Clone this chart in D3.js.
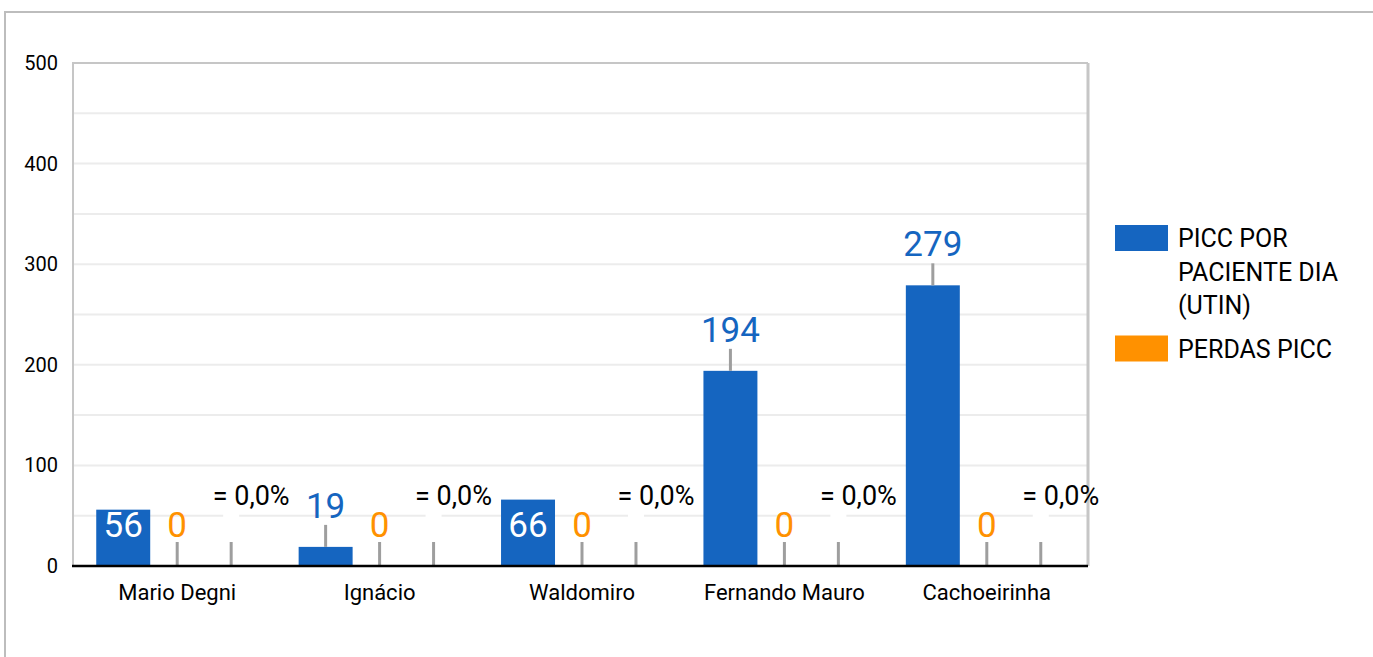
<!DOCTYPE html>
<html>
<head>
<meta charset="utf-8">
<script src="https://cdn.jsdelivr.net/npm/d3@7"></script>
<style>
  body { margin: 0; background: #fff; }
  svg { display: block; font-family: Roboto, 'Noto Sans', sans-serif; }
</style>
</head>
<body>
<div id="chart"></div>
<script>
const categories = ['Mario Degni', 'Ignácio', 'Waldomiro', 'Fernando Mauro', 'Cachoeirinha'];
const piccPorPaciente = [56, 19, 66, 194, 279];
const perdasPicc = [0, 0, 0, 0, 0];
const taxaPerdas = [0, 0, 0, 0, 0];
const taxaLabels = ['= 0,0%', '= 0,0%', '= 0,0%', '= 0,0%', '= 0,0%'];
const yTicks = [0, 100, 200, 300, 400, 500];
const legendItems = [
    {lines: ['PICC POR', 'PACIENTE DIA', '(UTIN)'], color: '#1565c0'},
    {lines: ['PERDAS PICC'], color: '#ff9100'}
];

const W = 1373, H = 657;
const plot = {left: 73, top: 63, right: 1088, bottom: 566};

const svg = d3.select('#chart')
    .append('svg')
    .attr('width', W)
    .attr('height', H);

// outer frame (only top and left edges visible)
svg.append('path')
    .attr('d', 'M5,' + H + ' V12 H' + W)
    .attr('fill', 'none')
    .attr('stroke', '#bdbdbd')
    .attr('stroke-width', 2);

const y = d3.scaleLinear()
    .domain([0, 500])
    .range([plot.bottom, plot.top]);

const x = d3.scaleBand()
    .domain(categories)
    .range([76, plot.right])
    .paddingInner(0.2)
    .paddingOuter(0.1);

const slots = ['picc', 'perdas', 'taxa'];
const xs = d3.scaleBand()
    .domain(slots)
    .range([0, x.bandwidth()])
    .padding(0);

// gridlines every 50
const grid = d3.range(50, 500, 50);
svg.append('g')
    .selectAll('line')
    .data(grid)
    .join('line')
    .attr('x1', plot.left)
    .attr('x2', plot.right)
    .attr('y1', d => y(d))
    .attr('y2', d => y(d))
    .attr('stroke', '#ececec')
    .attr('stroke-width', 2);

// plot frame
svg.append('path')
    .attr('d', 'M' + plot.left + ',' + plot.bottom + ' V' + plot.top + ' H' + plot.right)
    .attr('fill', 'none')
    .attr('stroke', '#c6c6c6')
    .attr('stroke-width', 2);
svg.append('line')
    .attr('x1', plot.right).attr('x2', plot.right)
    .attr('y1', plot.top).attr('y2', plot.bottom)
    .attr('stroke', '#c6c6c6')
    .attr('stroke-width', 3);

// y axis labels
svg.append('g')
    .selectAll('text')
    .data(yTicks)
    .join('text')
    .attr('x', 58)
    .attr('y', d => y(d))
    .attr('dy', '0.35em')
    .attr('text-anchor', 'end')
    .attr('font-size', 20)
    .attr('fill', '#000')
    .text(d => d);

const groups = svg.append('g')
    .selectAll('g')
    .data(categories.map((c, i) => ({
        cat: c, picc: piccPorPaciente[i], perdas: perdasPicc[i],
        taxa: taxaPerdas[i], taxaLabel: taxaLabels[i]
    })))
    .join('g')
    .attr('transform', d => 'translate(' + x(d.cat) + ',0)');

const stem = 22, gap = 7;

// blue bars
groups.append('rect')
    .attr('x', xs('picc'))
    .attr('width', xs.bandwidth())
    .attr('y', d => y(d.picc))
    .attr('height', d => y(0) - y(d.picc))
    .attr('fill', '#1565c0');

const inside = d => (y(0) - y(d.picc)) > 40 && d.picc < 100;

groups.filter(d => !inside(d)).append('line')
    .attr('x1', xs('picc') + xs.bandwidth() / 2)
    .attr('x2', xs('picc') + xs.bandwidth() / 2)
    .attr('y1', d => y(d.picc))
    .attr('y2', d => y(d.picc) - stem)
    .attr('stroke', '#9e9e9e')
    .attr('stroke-width', 3);

groups.append('text')
    .attr('x', xs('picc') + xs.bandwidth() / 2)
    .attr('y', d => inside(d) ? y(0) - stem - gap : y(d.picc) - stem - gap)
    .attr('text-anchor', 'middle')
    .attr('font-size', 35)
    .attr('fill', d => inside(d) ? '#fff' : '#1565c0')
    .text(d => d.picc);

// orange series (zero values) with stems
groups.append('rect')
    .attr('x', xs('perdas'))
    .attr('width', xs.bandwidth())
    .attr('y', d => y(d.perdas))
    .attr('height', d => y(0) - y(d.perdas))
    .attr('fill', '#ff9100');

groups.append('line')
    .attr('x1', xs('perdas') + xs.bandwidth() / 2)
    .attr('x2', xs('perdas') + xs.bandwidth() / 2)
    .attr('y1', d => y(d.perdas))
    .attr('y2', d => y(d.perdas) - stem - 2)
    .attr('stroke', '#9e9e9e')
    .attr('stroke-width', 3);

groups.append('text')
    .attr('x', xs('perdas') + xs.bandwidth() / 2)
    .attr('y', d => y(d.perdas) - stem - gap)
    .attr('text-anchor', 'middle')
    .attr('font-size', 35)
    .attr('fill', '#ff9100')
    .text(d => d.perdas);

// third (unlisted) series: zero bars with a percentage label
groups.append('rect')
    .attr('x', xs('taxa') + xs.bandwidth() / 2 - 8)
    .attr('width', 16)
    .attr('y', d => y(d.taxa) - 56)
    .attr('height', 28)
    .attr('fill', '#fff');

groups.append('line')
    .attr('x1', xs('taxa') + xs.bandwidth() / 2)
    .attr('x2', xs('taxa') + xs.bandwidth() / 2)
    .attr('y1', d => y(d.taxa))
    .attr('y2', d => y(d.taxa) - stem - 2)
    .attr('stroke', '#9e9e9e')
    .attr('stroke-width', 3);

groups.append('text')
    .attr('x', xs('taxa') + xs.bandwidth() / 2 + 20)
    .attr('y', d => y(d.taxa) - 61)
    .attr('text-anchor', 'middle')
    .attr('font-size', 27)
    .attr('fill', '#000')
    .text(d => d.taxaLabel);

// baseline
svg.append('line')
    .attr('x1', plot.left - 1)
    .attr('x2', plot.right)
    .attr('y1', y(0))
    .attr('y2', y(0))
    .attr('stroke', '#000')
    .attr('stroke-width', 2.5);

// x axis labels
svg.append('g')
    .selectAll('text')
    .data(categories)
    .join('text')
    .attr('x', d => x(d) + x.bandwidth() / 2)
    .attr('y', 600)
    .attr('text-anchor', 'middle')
    .attr('font-size', 22)
    .attr('fill', '#000')
    .text(d => d);

// legend
const legend = svg.append('g').attr('transform', 'translate(1115,225)');
let ly = 0;
legendItems.forEach(item => {
    legend.append('rect')
        .attr('x', 0)
        .attr('y', ly)
        .attr('width', 53)
        .attr('height', 26)
        .attr('fill', item.color);
    const t = legend.append('text')
        .attr('x', 63)
        .attr('y', ly + 22)
        .attr('font-size', 25)
        .attr('fill', '#000');
    item.lines.forEach((ln, i) => {
        t.append('tspan')
            .attr('x', 63)
            .attr('dy', i === 0 ? 0 : 33.5)
            .text(ln);
    });
    ly += item.lines.length * 33.5 + 10;
});
</script>
</body>
</html>
